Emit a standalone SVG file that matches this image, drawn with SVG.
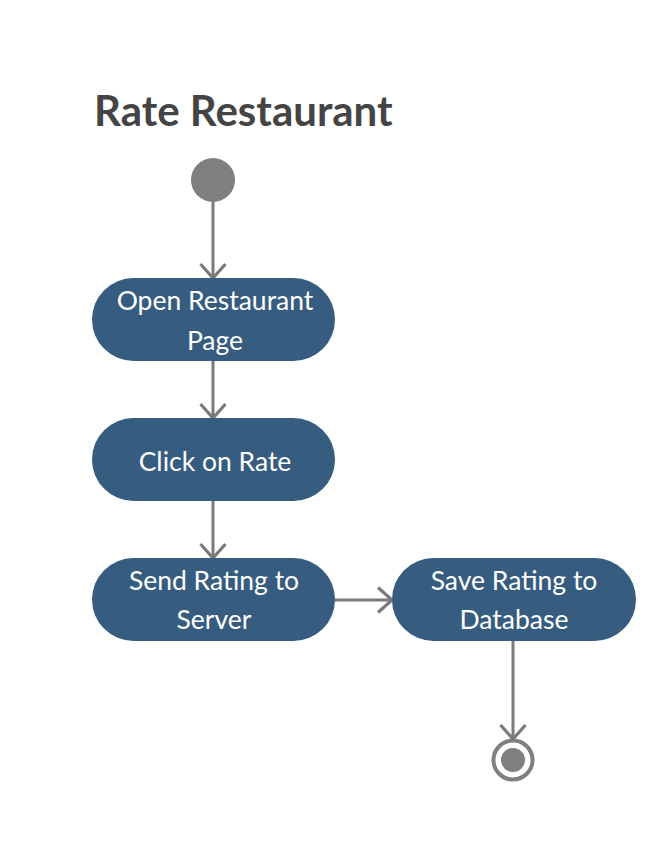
<svg xmlns="http://www.w3.org/2000/svg" width="671" height="867" viewBox="0 0 671 867">
<style>
.node rect{fill:#365c7f;}
.node text{font-family:Lato,"Liberation Sans",sans-serif;font-size:26.5px;fill:#ffffff;text-anchor:middle;}
.edge{stroke:#7a7a7a;stroke-width:3;fill:none;}
.title{font-family:Lato,"Liberation Sans",sans-serif;font-size:42px;font-weight:bold;fill:#444444;}
</style>
<defs>
<marker id="arr" viewBox="0 0 20 28" refX="17" refY="14" markerWidth="20" markerHeight="28" markerUnits="userSpaceOnUse" orient="auto">
<path d="M3,1.5 L17,14 L3,26.5" fill="none" stroke="#7a7a7a" stroke-width="3.2"/>
</marker>
</defs>
<rect width="671" height="867" fill="#ffffff"/>
<text class="title" x="94" y="126">Rate Restaurant</text>
<g id="edges">
<line class="edge" x1="213" y1="202" x2="213" y2="278" marker-end="url(#arr)"/>
<line class="edge" x1="213" y1="361" x2="213" y2="418" marker-end="url(#arr)"/>
<line class="edge" x1="213" y1="501" x2="213" y2="558" marker-end="url(#arr)"/>
<line class="edge" x1="335" y1="600" x2="392" y2="600" marker-end="url(#arr)"/>
<line class="edge" x1="513" y1="641" x2="513" y2="739" marker-end="url(#arr)"/>
</g>
<g id="start"><circle cx="213" cy="180" r="22" fill="#7f7f7f"/></g>
<g id="n1" class="node"><rect x="92" y="278" width="243" height="83" rx="41.5"/><text x="215" y="310">Open Restaurant</text><text x="215" y="350">Page</text></g>
<g id="n2" class="node"><rect x="92" y="418" width="243" height="83" rx="41.5"/><text x="215" y="471">Click on Rate</text></g>
<g id="n3" class="node"><rect x="92" y="558" width="243" height="83" rx="41.5"/><text x="214" y="590">Send Rating to</text><text x="214" y="629">Server</text></g>
<g id="n4" class="node"><rect x="392" y="558" width="244" height="83" rx="41.5"/><text x="514" y="590">Save Rating to</text><text x="514" y="629">Database</text></g>
<g id="end"><circle cx="513" cy="760" r="19.5" fill="none" stroke="#7f7f7f" stroke-width="4"/><circle cx="513" cy="760" r="12" fill="#7f7f7f"/></g>
</svg>
